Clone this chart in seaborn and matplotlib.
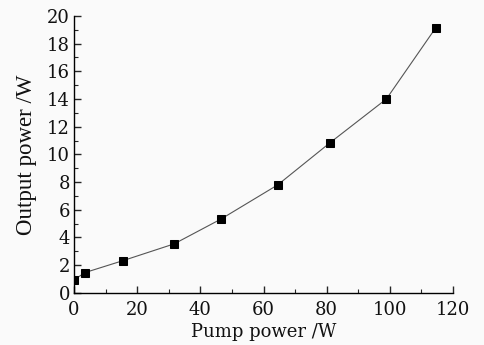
import numpy as np
import pandas as pd
import seaborn as sns
import matplotlib.pyplot as plt
from matplotlib.ticker import MultipleLocator

# values
PUMP = [0, 3.5, 15.5, 31.7, 46.6, 64.5, 81.1, 98.9, 114.5]
OUTPUT = [0.95, 1.47, 2.33, 3.54, 5.34, 7.8, 10.85, 14.0, 19.13]

DATA = pd.DataFrame({'pump': PUMP, 'output': OUTPUT})

sns.set_style('ticks')
plt.rcParams['font.family'] = ['DejaVu Serif']
plt.rcParams['xtick.direction'] = 'in'
plt.rcParams['ytick.direction'] = 'in'

fig = plt.figure(figsize=(4.84, 3.45), dpi=100, facecolor='#fafafa')
ax = fig.add_axes([0.153, 0.151, 0.783, 0.803])
ax.set_facecolor('#fafafa')

sns.lineplot(data=DATA, x='pump', y='output', ax=ax, color='#555555',
             linewidth=0.8, marker='s', markersize=5.5,
             markerfacecolor='black', markeredgecolor='black')

ax.set_xlim(0, 120)
ax.set_ylim(0, 20)
ax.xaxis.set_major_locator(MultipleLocator(20))
ax.xaxis.set_minor_locator(MultipleLocator(10))
ax.yaxis.set_major_locator(MultipleLocator(2))
ax.yaxis.set_minor_locator(MultipleLocator(1))
ax.tick_params(which='major', length=5, width=1, labelsize=13, labelcolor='#111111')
ax.tick_params(axis='x', pad=6)
ax.tick_params(axis='y', pad=3)
ax.tick_params(which='minor', length=3, width=0.8)

sns.despine(ax=ax)
for s in ['left', 'bottom']:
    ax.spines[s].set_color('black')
    ax.spines[s].set_linewidth(1)

ax.set_xlabel('Pump power /W', fontsize=13, labelpad=3, color='#111111')
ax.set_ylabel('Output power /W', fontsize=16.5, labelpad=7, color='#111111',
              family=['Liberation Serif'])

fig.savefig('out.png', dpi=100, facecolor=fig.get_facecolor())
